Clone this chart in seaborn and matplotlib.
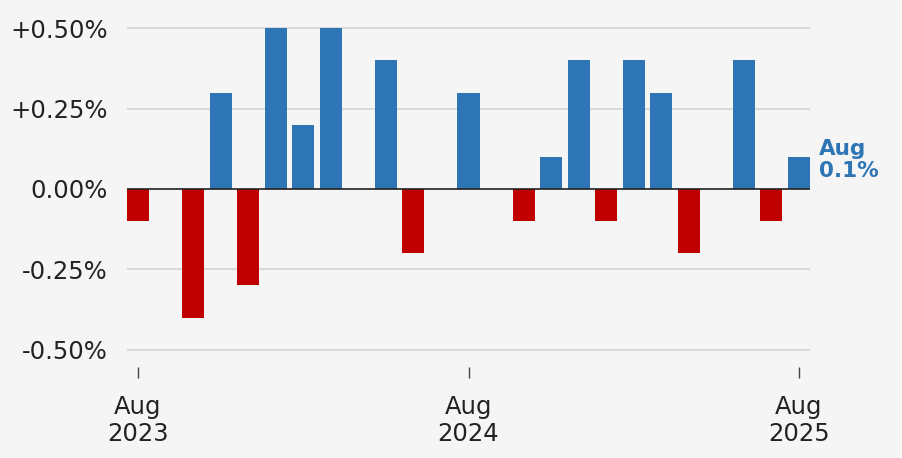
import matplotlib
matplotlib.use("Agg")
import matplotlib.pyplot as plt
import seaborn as sns
import pandas as pd

months = ["Aug 2023", "Sep 2023", "Oct 2023", "Nov 2023", "Dec 2023",
          "Jan 2024", "Feb 2024", "Mar 2024", "Apr 2024", "May 2024",
          "Jun 2024", "Jul 2024", "Aug 2024", "Sep 2024", "Oct 2024",
          "Nov 2024", "Dec 2024", "Jan 2025", "Feb 2025", "Mar 2025",
          "Apr 2025", "May 2025", "Jun 2025", "Jul 2025", "Aug 2025"]
values = [-0.1, 0.0, -0.4, 0.3, -0.3,
          0.5, 0.2, 0.5, 0.0, 0.4,
          -0.2, 0.0, 0.3, 0.0, -0.1,
          0.1, 0.4, -0.1, 0.4, 0.3,
          -0.2, 0.0, 0.4, -0.1, 0.1]
tick_months = ["Aug 2023", "Aug 2024", "Aug 2025"]
tick_labels = ["Aug\n2023", "Aug\n2024", "Aug\n2025"]
y_ticks = [-0.5, -0.25, 0.0, 0.25, 0.5]
y_tick_labels = ["-0.50%", "-0.25%", "0.00%", "+0.25%", "+0.50%"]
annotation = "Aug\n0.1%"

BLUE = "#2e75b6"
RED = "#c00000"
BG = "#f5f5f5"

df = pd.DataFrame({"month": months, "value": values})
df["sign"] = ["pos" if v >= 0 else "neg" for v in values]

sns.set_theme(style="white")
plt.rcParams["font.family"] = ["DejaVu Sans"]

fig = plt.figure(figsize=(9.02, 4.58), dpi=100)
fig.patch.set_facecolor(BG)
ax = fig.add_axes([127 / 902, (458 - 353) / 458, 683 / 902, 328 / 458])
ax.set_facecolor(BG)

sns.barplot(data=df, x="month", y="value", hue="sign", order=months,
            palette={"pos": BLUE, "neg": RED}, dodge=False, width=0.8,
            legend=False, ax=ax, saturation=1, linewidth=0, edgecolor="none")

ax.set_xlim(-0.4, len(months) - 0.6)
ax.set_ylim(-0.51, 0.51)

for y in y_ticks:
    if y != 0:
        ax.axhline(y, color="#d6d6d6", lw=1.3, zorder=0)
ax.axhline(0, color="#222222", lw=1.2, zorder=3)

ax.set_yticks(y_ticks)
ax.set_yticklabels(y_tick_labels)
ax.tick_params(axis="y", left=False, length=0, pad=14, labelsize=17.5,
               labelcolor="#222222")

pos = [months.index(m) for m in tick_months]
ax.set_xticks(pos)
ax.set_xticklabels(tick_labels, linespacing=1.0)
ax.tick_params(axis="x", bottom=True, length=8, width=1, color="#444444", pad=12,
               labelsize=17.5, labelcolor="#222222")
ax.spines["bottom"].set_position(("outward", 10))
for s in ax.spines.values():
    s.set_visible(False)
ax.set_xlabel("")
ax.set_ylabel("")

ax.text(len(months) - 0.4 + 0.12, values[-1] - 0.01, annotation, color=BLUE,
        fontsize=15.5, fontweight="bold", ha="left", va="center",
        linespacing=1.1, clip_on=False)

fig.savefig("out.png", dpi=100, facecolor=BG)
